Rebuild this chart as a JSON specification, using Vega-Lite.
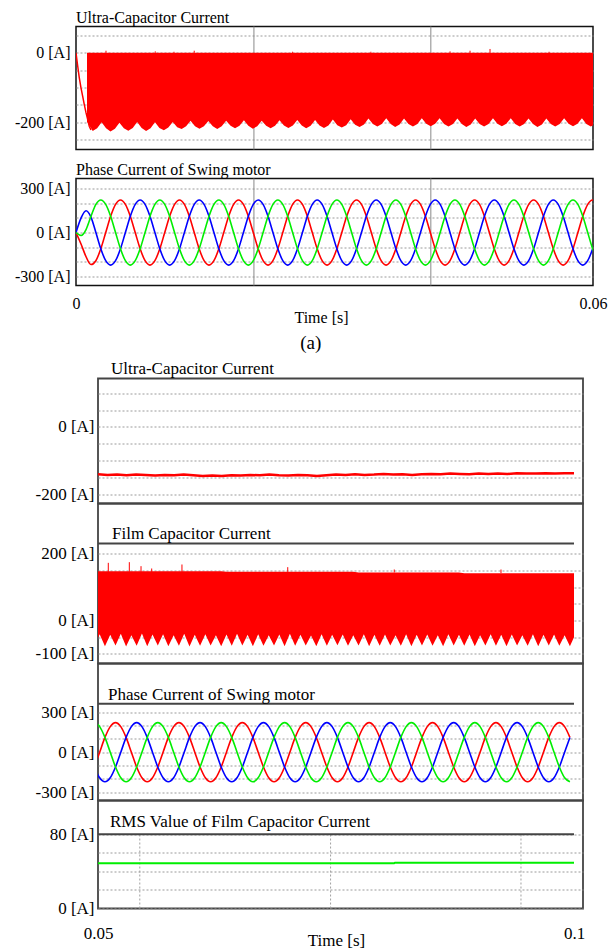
{
"$schema":"https://vega.github.io/schema/vega-lite/v6.json",
"background":"white",
"padding":{"left":11,"top":8.5,"right":0,"bottom":0},
"config":{
"font":"Liberation Serif",
"view":{"stroke":null},
"axis":{"labelFont":"Liberation Serif","titleFont":"Liberation Serif","labelColor":"#000","titleColor":"#000","titleFontWeight":"normal","ticks":false,"domain":false,"gridColor":"#9a9a9a","gridDash":[2,2],"gridWidth":1,"labelOverlap":false,"labelFlush":false},
"title":{"font":"Liberation Serif","fontWeight":"normal","color":"#000"}
},
"datasets":{
"pa":[
{"t":0,"r":0,"b":0,"g":0},
{"t":0.0005946,"r":-80,"b":100,"g":-20},
{"t":0.0011654,"r":-165,"b":148,"g":20},
{"t":0.0017362,"r":-218,"b":105,"g":110},
{"t":0.002307,"r":-192,"b":0,"g":192},
{"t":0.0028778,"r":-111,"b":-111,"g":222},
{"t":0.0034486,"r":0,"b":-192,"g":192},
{"t":0.0040194,"r":111,"b":-222,"g":111},
{"t":0.0045902,"r":192,"b":-192,"g":0},
{"t":0.005161,"r":222,"b":-111,"g":-111},
{"t":0.0057318,"r":192,"b":0,"g":-192},
{"t":0.0063026,"r":111,"b":111,"g":-222},
{"t":0.0068734,"r":0,"b":192,"g":-192},
{"t":0.0074442,"r":-111,"b":222,"g":-111},
{"t":0.008015,"r":-192,"b":192,"g":0},
{"t":0.0085858,"r":-222,"b":111,"g":111},
{"t":0.0091566,"r":-192,"b":0,"g":192},
{"t":0.0097274,"r":-111,"b":-111,"g":222},
{"t":0.0102982,"r":0,"b":-192,"g":192},
{"t":0.010869,"r":111,"b":-222,"g":111},
{"t":0.0114398,"r":192,"b":-192,"g":0},
{"t":0.0120106,"r":222,"b":-111,"g":-111},
{"t":0.0125814,"r":192,"b":0,"g":-192},
{"t":0.0131522,"r":111,"b":111,"g":-222},
{"t":0.013723,"r":0,"b":192,"g":-192},
{"t":0.0142938,"r":-111,"b":222,"g":-111},
{"t":0.0148646,"r":-192,"b":192,"g":0},
{"t":0.0154354,"r":-222,"b":111,"g":111},
{"t":0.0160062,"r":-192,"b":0,"g":192},
{"t":0.016577,"r":-111,"b":-111,"g":222},
{"t":0.0171478,"r":0,"b":-192,"g":192},
{"t":0.0177186,"r":111,"b":-222,"g":111},
{"t":0.0182894,"r":192,"b":-192,"g":0},
{"t":0.0188602,"r":222,"b":-111,"g":-111},
{"t":0.019431,"r":192,"b":0,"g":-192},
{"t":0.0200018,"r":111,"b":111,"g":-222},
{"t":0.0205726,"r":0,"b":192,"g":-192},
{"t":0.0211434,"r":-111,"b":222,"g":-111},
{"t":0.0217142,"r":-192,"b":192,"g":0},
{"t":0.022285,"r":-222,"b":111,"g":111},
{"t":0.0228558,"r":-192,"b":0,"g":192},
{"t":0.0234266,"r":-111,"b":-111,"g":222},
{"t":0.0239974,"r":0,"b":-192,"g":192},
{"t":0.0245682,"r":111,"b":-222,"g":111},
{"t":0.025139,"r":192,"b":-192,"g":0},
{"t":0.0257098,"r":222,"b":-111,"g":-111},
{"t":0.0262806,"r":192,"b":0,"g":-192},
{"t":0.0268514,"r":111,"b":111,"g":-222},
{"t":0.0274222,"r":0,"b":192,"g":-192},
{"t":0.027993,"r":-111,"b":222,"g":-111},
{"t":0.0285638,"r":-192,"b":192,"g":0},
{"t":0.0291346,"r":-222,"b":111,"g":111},
{"t":0.0297054,"r":-192,"b":0,"g":192},
{"t":0.0302762,"r":-111,"b":-111,"g":222},
{"t":0.030847,"r":0,"b":-192,"g":192},
{"t":0.0314178,"r":111,"b":-222,"g":111},
{"t":0.0319886,"r":192,"b":-192,"g":0},
{"t":0.0325594,"r":222,"b":-111,"g":-111},
{"t":0.0331302,"r":192,"b":0,"g":-192},
{"t":0.033701,"r":111,"b":111,"g":-222},
{"t":0.0342718,"r":0,"b":192,"g":-192},
{"t":0.0348426,"r":-111,"b":222,"g":-111},
{"t":0.0354134,"r":-192,"b":192,"g":0},
{"t":0.0359842,"r":-222,"b":111,"g":111},
{"t":0.036555,"r":-192,"b":0,"g":192},
{"t":0.0371258,"r":-111,"b":-111,"g":222},
{"t":0.0376966,"r":0,"b":-192,"g":192},
{"t":0.0382674,"r":111,"b":-222,"g":111},
{"t":0.0388382,"r":192,"b":-192,"g":0},
{"t":0.039409,"r":222,"b":-111,"g":-111},
{"t":0.0399798,"r":192,"b":0,"g":-192},
{"t":0.0405506,"r":111,"b":111,"g":-222},
{"t":0.0411214,"r":0,"b":192,"g":-192},
{"t":0.0416922,"r":-111,"b":222,"g":-111},
{"t":0.042263,"r":-192,"b":192,"g":0},
{"t":0.0428338,"r":-222,"b":111,"g":111},
{"t":0.0434046,"r":-192,"b":0,"g":192},
{"t":0.0439754,"r":-111,"b":-111,"g":222},
{"t":0.0445462,"r":0,"b":-192,"g":192},
{"t":0.045117,"r":111,"b":-222,"g":111},
{"t":0.0456878,"r":192,"b":-192,"g":0},
{"t":0.0462586,"r":222,"b":-111,"g":-111},
{"t":0.0468294,"r":192,"b":0,"g":-192},
{"t":0.0474002,"r":111,"b":111,"g":-222},
{"t":0.047971,"r":0,"b":192,"g":-192},
{"t":0.0485418,"r":-111,"b":222,"g":-111},
{"t":0.0491126,"r":-192,"b":192,"g":0},
{"t":0.0496834,"r":-222,"b":111,"g":111},
{"t":0.0502542,"r":-192,"b":0,"g":192},
{"t":0.050825,"r":-111,"b":-111,"g":222},
{"t":0.0513958,"r":0,"b":-192,"g":192},
{"t":0.0519666,"r":111,"b":-222,"g":111},
{"t":0.0525374,"r":192,"b":-192,"g":0},
{"t":0.0531082,"r":222,"b":-111,"g":-111},
{"t":0.053679,"r":192,"b":0,"g":-192},
{"t":0.0542498,"r":111,"b":111,"g":-222},
{"t":0.0548206,"r":0,"b":192,"g":-192},
{"t":0.0553914,"r":-111,"b":222,"g":-111},
{"t":0.0559622,"r":-192,"b":192,"g":0},
{"t":0.056533,"r":-222,"b":111,"g":111},
{"t":0.0571038,"r":-192,"b":0,"g":192},
{"t":0.0576746,"r":-111,"b":-111,"g":222},
{"t":0.0582454,"r":0,"b":-192,"g":192},
{"t":0.0588162,"r":111,"b":-222,"g":111},
{"t":0.059387,"r":192,"b":-192,"g":0},
{"t":0.0599578,"r":222,"b":-111,"g":-111},
{"t":0.0605286,"r":192,"b":0,"g":-192}
],
"ua":[
{"t":0.001276,"u":-198},
{"t":0.00194,"u":-225},{"t":0.0024561,"u":-217},{"t":0.0029723,"u":-200},{"t":0.0034884,"u":-217},
{"t":0.0040045,"u":-226},{"t":0.0045207,"u":-218},{"t":0.0050368,"u":-201},{"t":0.0055529,"u":-217},
{"t":0.006069,"u":-224},{"t":0.0065852,"u":-216},{"t":0.0071013,"u":-199},{"t":0.0076174,"u":-216},
{"t":0.0081336,"u":-225},{"t":0.0086497,"u":-217},{"t":0.0091658,"u":-200},{"t":0.009682,"u":-216},
{"t":0.0101981,"u":-223},{"t":0.0107142,"u":-215},{"t":0.0112303,"u":-199},{"t":0.0117465,"u":-214},
{"t":0.0122626,"u":-219},{"t":0.0127787,"u":-211},{"t":0.0132949,"u":-195},{"t":0.013811,"u":-211},
{"t":0.0143271,"u":-218},{"t":0.0148433,"u":-211},{"t":0.0153594,"u":-196},{"t":0.0158755,"u":-211},
{"t":0.0163916,"u":-219},{"t":0.0169078,"u":-211},{"t":0.0174239,"u":-195},{"t":0.01794,"u":-210},
{"t":0.0184562,"u":-217},{"t":0.0189723,"u":-210},{"t":0.0194884,"u":-194},{"t":0.0200046,"u":-210},
{"t":0.0205207,"u":-218},{"t":0.0210368,"u":-211},{"t":0.0215529,"u":-195},{"t":0.0220691,"u":-210},
{"t":0.0225852,"u":-217},{"t":0.0231013,"u":-210},{"t":0.0236175,"u":-194},{"t":0.0241336,"u":-209},
{"t":0.0246497,"u":-216},{"t":0.0251659,"u":-209},{"t":0.025682,"u":-193},{"t":0.0261981,"u":-209},
{"t":0.0267142,"u":-217},{"t":0.0272304,"u":-210},{"t":0.0277465,"u":-193},{"t":0.0282626,"u":-209},
{"t":0.0287788,"u":-216},{"t":0.0292949,"u":-209},{"t":0.029811,"u":-192},{"t":0.0303272,"u":-208},
{"t":0.0308433,"u":-215},{"t":0.0313594,"u":-208},{"t":0.0318755,"u":-191},{"t":0.0323917,"u":-207},
{"t":0.0329078,"u":-213},{"t":0.0334239,"u":-206},{"t":0.0339401,"u":-189},{"t":0.0344562,"u":-205},
{"t":0.0349723,"u":-212},{"t":0.0354885,"u":-205},{"t":0.0360046,"u":-188},{"t":0.0365207,"u":-205},
{"t":0.0370368,"u":-213},{"t":0.037553,"u":-206},{"t":0.0380691,"u":-189},{"t":0.0385852,"u":-205},
{"t":0.0391014,"u":-212},{"t":0.0396175,"u":-205},{"t":0.0401336,"u":-188},{"t":0.0406498,"u":-204},
{"t":0.0411659,"u":-211},{"t":0.041682,"u":-204},{"t":0.0421981,"u":-188},{"t":0.0427143,"u":-205},
{"t":0.0432304,"u":-212},{"t":0.0437465,"u":-205},{"t":0.0442627,"u":-189},{"t":0.0447788,"u":-205},
{"t":0.0452949,"u":-213},{"t":0.0458111,"u":-206},{"t":0.0463272,"u":-189},{"t":0.0468433,"u":-205},
{"t":0.0473594,"u":-212},{"t":0.0478756,"u":-205},{"t":0.0483917,"u":-188},{"t":0.0489078,"u":-204},
{"t":0.049424,"u":-211},{"t":0.0499401,"u":-204},{"t":0.0504562,"u":-188},{"t":0.0509724,"u":-205},
{"t":0.0514885,"u":-212},{"t":0.0520046,"u":-205},{"t":0.0525207,"u":-189},{"t":0.0530369,"u":-205},
{"t":0.053553,"u":-213},{"t":0.0540691,"u":-206},{"t":0.0545853,"u":-189},{"t":0.0551014,"u":-205},
{"t":0.0556175,"u":-212},{"t":0.0561337,"u":-205},{"t":0.0566498,"u":-188},{"t":0.0571659,"u":-204},
{"t":0.057682,"u":-211},{"t":0.0581982,"u":-204},{"t":0.0587143,"u":-188},{"t":0.0592304,"u":-205},
{"t":0.0597466,"u":-212},{"t":0.0602627,"u":-205}
],
"ta":[{"t":0,"v":0},{"t":0.000197,"v":-38},{"t":0.000383,"v":-72},{"t":0.00058,"v":-101},{"t":0.000777,"v":-125},{"t":0.000963,"v":-149},{"t":0.00116,"v":-172},{"t":0.00136,"v":-192},{"t":0.00154,"v":-211},{"t":0.00174,"v":-222}],
"sa":[{"t":0.00348,"a":0,"s":6},{"t":0.0092,"a":0,"s":4},{"t":0.01137,"a":0,"s":3},{"t":0.01372,"a":0,"s":6},{"t":0.02513,"a":0,"s":3},{"t":0.03422,"a":0,"s":3},{"t":0.04341,"a":0,"s":4},{"t":0.04573,"a":0,"s":6},{"t":0.04805,"a":0,"s":11},{"t":0.0549,"a":0,"s":3}],
"va":[{"t":0.02065},{"t":0.04118}],
"pb":[
{"t":0.04962,"r":-111,"b":-111,"g":222,"lo":-76,"hi":148},
{"t":0.050175,"r":0,"b":-192,"g":192,"lo":-41,"hi":148},
{"t":0.05073,"r":111,"b":-222,"g":111,"lo":-77,"hi":148},
{"t":0.051285,"r":192,"b":-192,"g":0,"lo":-43,"hi":148},
{"t":0.05184,"r":222,"b":-111,"g":-111,"lo":-75,"hi":148},
{"t":0.052395,"r":192,"b":0,"g":-192,"lo":-40,"hi":148},
{"t":0.05295,"r":111,"b":111,"g":-222,"lo":-78,"hi":148},
{"t":0.053505,"r":0,"b":192,"g":-192,"lo":-44,"hi":148},
{"t":0.05406,"r":-111,"b":222,"g":-111,"lo":-76,"hi":148},
{"t":0.054615,"r":-192,"b":192,"g":0,"lo":-39,"hi":148},
{"t":0.05517,"r":-222,"b":111,"g":111,"lo":-77,"hi":148},
{"t":0.055725,"r":-192,"b":0,"g":192,"lo":-42,"hi":148},
{"t":0.05628,"r":-111,"b":-111,"g":222,"lo":-75,"hi":148},
{"t":0.056835,"r":0,"b":-192,"g":192,"lo":-41,"hi":148},
{"t":0.05739,"r":111,"b":-222,"g":111,"lo":-77,"hi":148},
{"t":0.057945,"r":192,"b":-192,"g":0,"lo":-44,"hi":148},
{"t":0.0585,"r":222,"b":-111,"g":-111,"lo":-76,"hi":148},
{"t":0.059055,"r":192,"b":0,"g":-192,"lo":-40,"hi":148},
{"t":0.05961,"r":111,"b":111,"g":-222,"lo":-78,"hi":148},
{"t":0.060165,"r":0,"b":192,"g":-192,"lo":-43,"hi":148},
{"t":0.06072,"r":-111,"b":222,"g":-111,"lo":-76,"hi":148},
{"t":0.061275,"r":-192,"b":192,"g":0,"lo":-41,"hi":148},
{"t":0.06183,"r":-222,"b":111,"g":111,"lo":-75,"hi":148},
{"t":0.062385,"r":-192,"b":0,"g":192,"lo":-44,"hi":148},
{"t":0.06294,"r":-111,"b":-111,"g":222,"lo":-77,"hi":148},
{"t":0.063495,"r":0,"b":-192,"g":192,"lo":-42,"hi":146},
{"t":0.06405,"r":111,"b":-222,"g":111,"lo":-76,"hi":146},
{"t":0.064605,"r":192,"b":-192,"g":0,"lo":-40,"hi":146},
{"t":0.06516,"r":222,"b":-111,"g":-111,"lo":-75,"hi":146},
{"t":0.065715,"r":192,"b":0,"g":-192,"lo":-43,"hi":146},
{"t":0.06627,"r":111,"b":111,"g":-222,"lo":-77,"hi":146},
{"t":0.066825,"r":0,"b":192,"g":-192,"lo":-41,"hi":146},
{"t":0.06738,"r":-111,"b":222,"g":-111,"lo":-76,"hi":146},
{"t":0.067935,"r":-192,"b":192,"g":0,"lo":-44,"hi":146},
{"t":0.06849,"r":-222,"b":111,"g":111,"lo":-75,"hi":146},
{"t":0.069045,"r":-192,"b":0,"g":192,"lo":-42,"hi":146},
{"t":0.0696,"r":-111,"b":-111,"g":222,"lo":-77,"hi":146},
{"t":0.070155,"r":0,"b":-192,"g":192,"lo":-40,"hi":146},
{"t":0.07071,"r":111,"b":-222,"g":111,"lo":-76,"hi":146},
{"t":0.071265,"r":192,"b":-192,"g":0,"lo":-43,"hi":146},
{"t":0.07182,"r":222,"b":-111,"g":-111,"lo":-75,"hi":146},
{"t":0.072375,"r":192,"b":0,"g":-192,"lo":-45,"hi":146},
{"t":0.07293,"r":111,"b":111,"g":-222,"lo":-77,"hi":146},
{"t":0.073485,"r":0,"b":192,"g":-192,"lo":-41,"hi":146},
{"t":0.07404,"r":-111,"b":222,"g":-111,"lo":-76,"hi":146},
{"t":0.074595,"r":-192,"b":192,"g":0,"lo":-43,"hi":146},
{"t":0.07515,"r":-222,"b":111,"g":111,"lo":-74,"hi":146},
{"t":0.075705,"r":-192,"b":0,"g":192,"lo":-42,"hi":146},
{"t":0.07626,"r":-111,"b":-111,"g":222,"lo":-76,"hi":146},
{"t":0.076815,"r":0,"b":-192,"g":192,"lo":-44,"hi":146},
{"t":0.07737,"r":111,"b":-222,"g":111,"lo":-75,"hi":144},
{"t":0.077925,"r":192,"b":-192,"g":0,"lo":-41,"hi":144},
{"t":0.07848,"r":222,"b":-111,"g":-111,"lo":-77,"hi":144},
{"t":0.079035,"r":192,"b":0,"g":-192,"lo":-43,"hi":144},
{"t":0.07959,"r":111,"b":111,"g":-222,"lo":-76,"hi":144},
{"t":0.080145,"r":0,"b":192,"g":-192,"lo":-42,"hi":144},
{"t":0.0807,"r":-111,"b":222,"g":-111,"lo":-75,"hi":144},
{"t":0.081255,"r":-192,"b":192,"g":0,"lo":-44,"hi":144},
{"t":0.08181,"r":-222,"b":111,"g":111,"lo":-76,"hi":144},
{"t":0.082365,"r":-192,"b":0,"g":192,"lo":-41,"hi":144},
{"t":0.08292,"r":-111,"b":-111,"g":222,"lo":-77,"hi":144},
{"t":0.083475,"r":0,"b":-192,"g":192,"lo":-43,"hi":144},
{"t":0.08403,"r":111,"b":-222,"g":111,"lo":-75,"hi":144},
{"t":0.084585,"r":192,"b":-192,"g":0,"lo":-42,"hi":144},
{"t":0.08514,"r":222,"b":-111,"g":-111,"lo":-76,"hi":144},
{"t":0.085695,"r":192,"b":0,"g":-192,"lo":-44,"hi":144},
{"t":0.08625,"r":111,"b":111,"g":-222,"lo":-77,"hi":144},
{"t":0.086805,"r":0,"b":192,"g":-192,"lo":-41,"hi":144},
{"t":0.08736,"r":-111,"b":222,"g":-111,"lo":-75,"hi":144},
{"t":0.087915,"r":-192,"b":192,"g":0,"lo":-43,"hi":144},
{"t":0.08847,"r":-222,"b":111,"g":111,"lo":-76,"hi":142},
{"t":0.089025,"r":-192,"b":0,"g":192,"lo":-42,"hi":142},
{"t":0.08958,"r":-111,"b":-111,"g":222,"lo":-77,"hi":142},
{"t":0.090135,"r":0,"b":-192,"g":192,"lo":-44,"hi":142},
{"t":0.09069,"r":111,"b":-222,"g":111,"lo":-75,"hi":142},
{"t":0.091245,"r":192,"b":-192,"g":0,"lo":-41,"hi":142},
{"t":0.0918,"r":222,"b":-111,"g":-111,"lo":-76,"hi":142},
{"t":0.092355,"r":192,"b":0,"g":-192,"lo":-43,"hi":142},
{"t":0.09291,"r":111,"b":111,"g":-222,"lo":-77,"hi":142},
{"t":0.093465,"r":0,"b":192,"g":-192,"lo":-42,"hi":142},
{"t":0.09402,"r":-111,"b":222,"g":-111,"lo":-75,"hi":142},
{"t":0.094575,"r":-192,"b":192,"g":0,"lo":-44,"hi":142},
{"t":0.09513,"r":-222,"b":111,"g":111,"lo":-76,"hi":142},
{"t":0.095685,"r":-192,"b":0,"g":192,"lo":-41,"hi":142},
{"t":0.09624,"r":-111,"b":-111,"g":222,"lo":-77,"hi":142},
{"t":0.096795,"r":0,"b":-192,"g":192,"lo":-43,"hi":142},
{"t":0.09735,"r":111,"b":-222,"g":111,"lo":-75,"hi":142},
{"t":0.097905,"r":192,"b":-192,"g":0,"lo":-42,"hi":142},
{"t":0.09846,"r":222,"b":-111,"g":-111,"lo":-76,"hi":142},
{"t":0.099015,"r":192,"b":0,"g":-192,"lo":-44,"hi":142},
{"t":0.09957,"r":111,"b":111,"g":-222,"lo":-77,"hi":142},
{"t":0.1,"lo":-50,"hi":142},
{"t":0.100125,"r":0,"b":192,"g":-192}
],
"ub":[
{"t":0.05,"v":-141},{"t":0.051,"v":-143},{"t":0.052,"v":-142},{"t":0.053,"v":-144},{"t":0.054,"v":-142},{"t":0.055,"v":-143},{"t":0.056,"v":-145},{"t":0.057,"v":-143},{"t":0.058,"v":-144},{"t":0.059,"v":-142},
{"t":0.06,"v":-144},{"t":0.061,"v":-146},{"t":0.062,"v":-145},{"t":0.063,"v":-146},{"t":0.064,"v":-144},{"t":0.065,"v":-145},{"t":0.066,"v":-143},{"t":0.067,"v":-144},{"t":0.068,"v":-142},{"t":0.069,"v":-144},
{"t":0.07,"v":-145},{"t":0.071,"v":-143},{"t":0.072,"v":-144},{"t":0.073,"v":-146},{"t":0.074,"v":-144},{"t":0.075,"v":-142},{"t":0.076,"v":-143},{"t":0.077,"v":-141},{"t":0.078,"v":-143},{"t":0.079,"v":-142},
{"t":0.08,"v":-140},{"t":0.081,"v":-142},{"t":0.082,"v":-141},{"t":0.083,"v":-143},{"t":0.084,"v":-141},{"t":0.085,"v":-140},{"t":0.086,"v":-141},{"t":0.087,"v":-139},{"t":0.088,"v":-140},{"t":0.089,"v":-141},
{"t":0.09,"v":-139},{"t":0.091,"v":-140},{"t":0.092,"v":-139},{"t":0.093,"v":-140},{"t":0.094,"v":-138},{"t":0.095,"v":-139},{"t":0.096,"v":-139},{"t":0.097,"v":-138},{"t":0.098,"v":-139},{"t":0.099,"v":-138},{"t":0.1,"v":-138}
],
"sb":[{"t":0.05108,"a":146,"s":173},{"t":0.05329,"a":146,"s":175},{"t":0.05452,"a":146,"s":163},{"t":0.05564,"a":146,"s":156},{"t":0.05882,"a":146,"s":168},{"t":0.06993,"a":146,"s":160},{"t":0.08112,"a":144,"s":153},{"t":0.09233,"a":142,"s":153}],
"vb":[{"t":0.05439,"y0":0,"y1":80},{"t":0.07443,"y0":0,"y1":80},{"t":0.09443,"y0":0,"y1":80}],
"rb":[{"t":0.05,"v":48.7},{"t":0.0811,"v":48.7},{"t":0.0812,"v":49.4},{"t":0.1,"v":49.4}]
},
"spacing":5,
"vconcat":[
{
"spacing":0,
"hconcat":[
{"width":2,"height":1,"data":{"values":[]},"mark":{"type":"point","opacity":0}},
{
"title":{"text":"(a)","orient":"bottom","anchor":"middle","fontSize":19,"offset":8},
"spacing":29,
"bounds":"flush",
"vconcat":[
{
"width":517,"height":123,
"view":{"stroke":"#111","strokeWidth":1.5},
"title":{"text":"Ultra-Capacitor Current","anchor":"start","frame":"group","fontSize":16,"baseline":"middle","offset":-7.5},
"layer":[
{"data":{"name":"va"},"mark":{"type":"rule","color":"#8a8a8a","strokeWidth":1},
"encoding":{"x":{"field":"t","type":"quantitative","scale":{"domain":[0,0.06],"nice":false,"zero":false},"axis":null}}},
{"data":{"name":"ua"},"mark":{"type":"area","color":"#ff0000","clip":true},
"encoding":{"x":{"field":"t","type":"quantitative","scale":{"domain":[0,0.06],"nice":false,"zero":false},"axis":null},
"y":{"field":"u","type":"quantitative","scale":{"domain":[-278,75.6],"nice":false,"zero":false},"axis":{"values":[50,0,-50,-100,-150,-200,-250],"labelExpr":"datum.value==0?'0 [A]':datum.value==-200?'-200 [A]':''","title":null,"grid":true,"labelFontSize":16,"labelPadding":6}},
"y2":{"datum":0}}},
{"data":{"name":"ta"},"mark":{"type":"line","color":"#ff0000","strokeWidth":1.5,"clip":true},
"encoding":{"x":{"field":"t","type":"quantitative","axis":null},"y":{"field":"v","type":"quantitative","axis":{"values":[50,0,-50,-100,-150,-200,-250],"labelExpr":"datum.value==0?'0 [A]':datum.value==-200?'-200 [A]':''","title":null,"grid":true,"labelFontSize":16,"labelPadding":6}}}},
{"data":{"name":"sa"},"mark":{"type":"rule","color":"#ff0000","strokeWidth":1},
"encoding":{"x":{"field":"t","type":"quantitative","axis":null},"y":{"field":"a","type":"quantitative","axis":{"values":[50,0,-50,-100,-150,-200,-250],"labelExpr":"datum.value==0?'0 [A]':datum.value==-200?'-200 [A]':''","title":null,"grid":true,"labelFontSize":16,"labelPadding":6}},"y2":{"field":"s"}}}
]
},
{
"width":517,"height":107,
"view":{"stroke":"#111","strokeWidth":1.5},
"title":{"text":"Phase Current of Swing motor","anchor":"start","frame":"group","fontSize":16,"baseline":"middle","offset":-7.8},
"layer":[
{"data":{"name":"va"},"mark":{"type":"rule","color":"#8a8a8a","strokeWidth":1},
"encoding":{"x":{"field":"t","type":"quantitative","scale":{"domain":[0,0.06],"nice":false,"zero":false},
"axis":{"values":[0,0.06],"format":"~g","title":"Time [s]","titleFontSize":16,"titleX":245,"titleY":31.5,"titleBaseline":"middle","labelFontSize":16,"labelPadding":9.5,"grid":false}}}},
{"data":{"name":"pa"},"transform":[{"fold":["r","b","g"],"as":["ph","v"]}],
"mark":{"type":"line","strokeWidth":1.6,"interpolate":"monotone","clip":true},
"encoding":{
"x":{"field":"t","type":"quantitative","scale":{"domain":[0,0.06],"nice":false,"zero":false},
"axis":{"values":[0,0.06],"format":"~g","title":"Time [s]","titleFontSize":16,"titleX":245,"titleY":31.5,"titleBaseline":"middle","labelFontSize":16,"labelPadding":9.5,"grid":false}},
"y":{"field":"v","type":"quantitative","scale":{"domain":[-361,368],"nice":false,"zero":false},"axis":{"values":[300,200,100,0,-100,-200,-300],"labelExpr":"datum.value==300?'300 [A]':datum.value==0?'0 [A]':datum.value==-300?'-300 [A]':''","title":null,"grid":true,"labelFontSize":16,"labelPadding":6}},
"color":{"field":"ph","type":"nominal","scale":{"domain":["r","b","g"],"range":["#ff0000","#0000ff","#00ee00"]},"legend":null}
}}
]
}
]
}
]
},
{
"spacing":0,
"hconcat":[
{"width":23,"height":1,"data":{"values":[]},"mark":{"type":"point","opacity":0}},
{
"spacing":0,
"bounds":"flush",
"vconcat":[
{
"width":485,"height":125,
"view":{"stroke":"#444","strokeWidth":1.8},
"title":{"text":"Ultra-Capacitor Current","anchor":"start","frame":"group","dx":13,"fontSize":17,"baseline":"middle","offset":-7.2},
"layer":[
{"data":{"name":"ub"},"mark":{"type":"line","color":"#ff0000","strokeWidth":2.5,"clip":true},
"encoding":{"x":{"field":"t","type":"quantitative","scale":{"domain":[0.05,0.100945],"nice":false,"zero":false},"axis":null},
"y":{"field":"v","type":"quantitative","scale":{"domain":[-228,144],"nice":false,"zero":false},"axis":{"values":[100,50,0,-50,-100,-150,-200],"labelExpr":"datum.value==0?'0 [A]':datum.value==-200?'-200 [A]':''","title":null,"grid":true,"labelFontSize":17,"labelPadding":4}}}}
]
},
{
"width":485,"height":160,
"view":{"stroke":"#444","strokeWidth":1.8},
"title":{"text":"Film Capacitor Current","anchor":"start","frame":"group","dx":14,"fontSize":17,"baseline":"middle","offset":-47.2},
"layer":[
{"data":{"name":"pb"},"mark":{"type":"area","color":"#ff0000","clip":true},
"encoding":{"x":{"field":"t","type":"quantitative","scale":{"domain":[0.05,0.100945],"nice":false,"zero":false},"axis":null},
"y":{"field":"lo","type":"quantitative","scale":{"domain":[-129,351],"nice":false,"zero":false},"axis":{"values":[200,150,100,50,0,-50,-100],"labelExpr":"datum.value==200?'200 [A]':datum.value==0?'0 [A]':datum.value==-100?'-100 [A]':''","title":null,"grid":true,"labelFontSize":17,"labelPadding":4}},
"y2":{"field":"hi"}}},
{"data":{"name":"sb"},"mark":{"type":"rule","color":"#ff0000","strokeWidth":1},
"encoding":{"x":{"field":"t","type":"quantitative","axis":null},"y":{"field":"a","type":"quantitative","axis":{"values":[200,150,100,50,0,-50,-100],"labelExpr":"datum.value==200?'200 [A]':datum.value==0?'0 [A]':datum.value==-100?'-100 [A]':''","title":null,"grid":true,"labelFontSize":17,"labelPadding":4}},"y2":{"field":"s"}}},
{"data":{"values":[{"v":231,"x0":0.05,"x1":0.1}]},"mark":{"type":"rule","color":"#444","strokeWidth":2},
"encoding":{"x":{"field":"x0","type":"quantitative","axis":null},"x2":{"field":"x1"},"y":{"field":"v","type":"quantitative","axis":{"values":[200,150,100,50,0,-50,-100],"labelExpr":"datum.value==200?'200 [A]':datum.value==0?'0 [A]':datum.value==-100?'-100 [A]':''","title":null,"grid":true,"labelFontSize":17,"labelPadding":4}}}}
]
},
{
"width":485,"height":137,
"view":{"stroke":"#444","strokeWidth":1.8},
"title":{"text":"Phase Current of Swing motor","anchor":"start","frame":"group","dx":10,"fontSize":17,"baseline":"middle","offset":-48.2},
"layer":[
{"data":{"name":"pb"},"transform":[{"fold":["r","b","g"],"as":["ph","v"]}],
"mark":{"type":"line","strokeWidth":1.6,"interpolate":"monotone","clip":true},
"encoding":{
"x":{"field":"t","type":"quantitative","scale":{"domain":[0.05,0.100945],"nice":false,"zero":false},"axis":null},
"y":{"field":"v","type":"quantitative","scale":{"domain":[-362,665],"nice":false,"zero":false},"axis":{"values":[300,200,100,0,-100,-200,-300],"labelExpr":"datum.value==300?'300 [A]':datum.value==0?'0 [A]':datum.value==-300?'-300 [A]':''","title":null,"grid":true,"labelFontSize":17,"labelPadding":4}},
"color":{"field":"ph","type":"nominal","scale":{"domain":["r","b","g"],"range":["#ff0000","#0000ff","#00ee00"]},"legend":null}
}},
{"data":{"values":[{"v":363,"x0":0.05,"x1":0.1}]},"mark":{"type":"rule","color":"#444","strokeWidth":2},
"encoding":{"x":{"field":"x0","type":"quantitative","axis":null},"x2":{"field":"x1"},"y":{"field":"v","type":"quantitative","axis":{"values":[300,200,100,0,-100,-200,-300],"labelExpr":"datum.value==300?'300 [A]':datum.value==0?'0 [A]':datum.value==-300?'-300 [A]':''","title":null,"grid":true,"labelFontSize":17,"labelPadding":4}}}}
]
},
{
"width":485,"height":108,
"view":{"stroke":"#444","strokeWidth":1.8},
"title":{"text":"RMS Value of Film Capacitor Current","anchor":"start","frame":"group","dx":12,"fontSize":17,"baseline":"middle","offset":-38},
"layer":[
{"data":{"name":"vb"},"mark":{"type":"rule","color":"#a0a0a0","strokeWidth":1,"strokeDash":[2,2]},
"encoding":{"x":{"field":"t","type":"quantitative","scale":{"domain":[0.05,0.100945],"nice":false,"zero":false},
"axis":{"values":[0.05,0.1],"format":"~g","title":"Time [s]","titleFontSize":17,"titleX":238,"titleY":32,"titleBaseline":"middle","labelFontSize":17,"labelPadding":17,"grid":false}},
"y":{"field":"y0","type":"quantitative","scale":{"domain":[0,116.5],"nice":false,"zero":false},"axis":{"values":[80,60,40,20,0],"labelExpr":"datum.value==80?'80 [A]':datum.value==0?'0 [A]':''","title":null,"grid":true,"labelFontSize":17,"labelPadding":4}},
"y2":{"field":"y1"}}},
{"data":{"name":"rb"},"mark":{"type":"line","color":"#00ee00","strokeWidth":2},
"encoding":{"x":{"field":"t","type":"quantitative","axis":{"values":[0.05,0.1],"format":"~g","title":"Time [s]","titleFontSize":17,"titleX":238,"titleY":32,"titleBaseline":"middle","labelFontSize":17,"labelPadding":17,"grid":false}},
"y":{"field":"v","type":"quantitative","axis":{"values":[80,60,40,20,0],"labelExpr":"datum.value==80?'80 [A]':datum.value==0?'0 [A]':''","title":null,"grid":true,"labelFontSize":17,"labelPadding":4}}}},
{"data":{"values":[{"v":80,"x0":0.05,"x1":0.1}]},"mark":{"type":"rule","color":"#444","strokeWidth":2},
"encoding":{"x":{"field":"x0","type":"quantitative","axis":{"values":[0.05,0.1],"format":"~g","title":"Time [s]","titleFontSize":17,"titleX":238,"titleY":32,"titleBaseline":"middle","labelFontSize":17,"labelPadding":17,"grid":false}},"x2":{"field":"x1"},
"y":{"field":"v","type":"quantitative","axis":{"values":[80,60,40,20,0],"labelExpr":"datum.value==80?'80 [A]':datum.value==0?'0 [A]':''","title":null,"grid":true,"labelFontSize":17,"labelPadding":4}}}}
]
}
]
}
]
}
]
}
